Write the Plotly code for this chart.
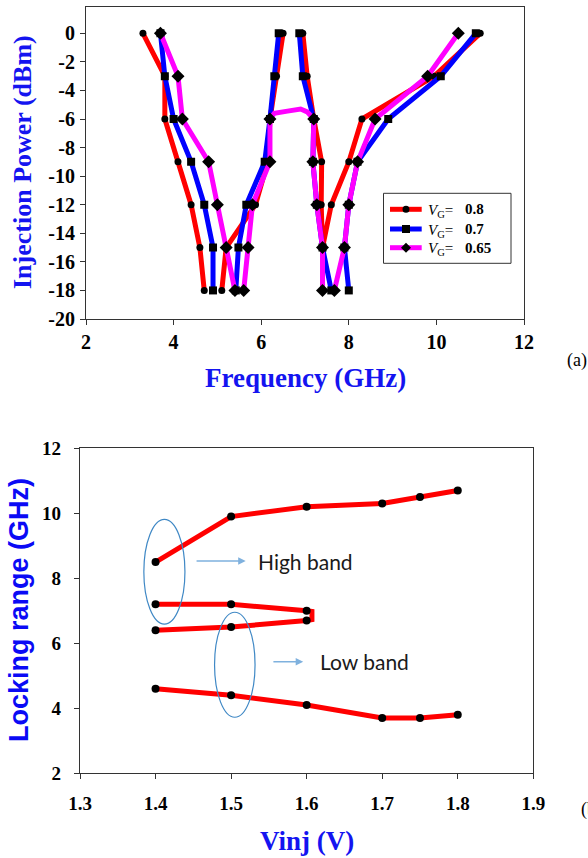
import plotly.graph_objects as go

# ---------------- (a) injection power vs frequency ----------------
power_levels = [0, -3, -6, -9, -12, -15, -18]

# frequency (GHz) at each power level, lower / upper edge of each locking band
vg08_b1_low = [3.3, 3.8, 3.8, 4.1, 4.4, 4.6, 4.7]
vg08_b1_high = [6.5, 6.35, 6.2, 6.15, 5.87, 5.2, 5.1]
vg08_b2_low = [6.95, 7.05, 7.2, 7.38, 7.37, 7.4, None]
vg08_b2_high = [11.0, 9.95, 8.3, 8.0, 7.6, 7.4, None]

vg07_b1_low = [3.7, 3.8, 4.0, 4.4, 4.7, 4.9, 4.9]
vg07_b1_high = [6.4, 6.3, 6.2, 6.08, 5.66, 5.48, 5.42]
vg07_b2_low = [6.87, 6.95, 7.2, 7.18, 7.27, 7.4, 7.6]
vg07_b2_high = [10.9, 10.1, 8.9, 8.2, 8.0, 7.9, 8.0]

vg065_b1_low = [3.7, 4.1, 4.2, 4.8, 5.0, 5.2, 5.4]
vg065_b1_high = [None, None, 6.2, 6.2, 5.8, 5.7, 5.6]
vg065_b2_low = [None, None, 7.2, 7.18, 7.27, 7.4, 7.4]
vg065_b2_high = [10.5, 9.8, 8.6, 8.2, 8.0, 7.9, 7.67]
vg065_merge_f = [6.2, 6.3, 6.6, 6.9, 7.05, 7.2]
vg065_merge_p = [-6, -5.6, -5.45, -5.3, -5.5, -6]

series_names = ["0.8", "0.7", "0.65"]
x_ticks_a = [2, 4, 6, 8, 10, 12]
y_ticks_a = [0, -2, -4, -6, -8, -10, -12, -14, -16, -18, -20]

# ---------------- (b) locking range vs Vinj ----------------
vinj = [1.4, 1.5, 1.6, 1.7, 1.75, 1.8]
high_band_upper = [8.5, 9.9, 10.2, 10.3, 10.5, 10.7]
high_band_lower = [7.2, 7.2, 7.0, None, None, None]
low_band_upper = [6.4, 6.5, 6.7, None, None, None]
low_band_lower = [4.6, 4.4, 4.1, 3.7, 3.7, 3.8]
merge_vinj = [1.607, 1.607]
merge_level = [6.98, 6.73]
x_ticks_b = [1.3, 1.4, 1.5, 1.6, 1.7, 1.8, 1.9]
y_ticks_b = [2, 4, 6, 8, 10, 12]


def edge(freqs, reverse=False):
    pts = [(f, p) for f, p in zip(freqs, power_levels) if f is not None]
    return pts[::-1] if reverse else pts


def build_path(segments):
    xs, ys = [], []
    last = None
    for seg in segments:
        if not seg:
            continue
        if last is not None:
            if seg[0] == last:
                seg = seg[1:]
            else:
                xs.append(None)
                ys.append(None)
        for f, p in seg:
            xs.append(f)
            ys.append(p)
        last = (xs[-1], ys[-1])
    return xs, ys


SERIF = "Liberation Serif"
SANS = "Liberation Sans"
W, H = 588, 858


def px_x(v):
    return v / W


def px_y(v):
    return 1 - v / H


fig = go.Figure()

styles = [
    ("#FF0000", "circle", 7),
    ("#0000FF", "square", 8),
    ("#FF00FF", "diamond", 10),
]
edges = [
    (vg08_b1_low, vg08_b1_high, vg08_b2_low, vg08_b2_high),
    (vg07_b1_low, vg07_b1_high, vg07_b2_low, vg07_b2_high),
    (vg065_b1_low, vg065_b1_high, vg065_b2_low, vg065_b2_high),
]

for name, (col, sym, msz), (b1l, b1h, b2l, b2h) in zip(series_names, styles, edges):
    if name == "0.65":
        fig.add_trace(go.Scatter(
            x=vg065_merge_f, y=vg065_merge_p, mode="lines",
            line=dict(color=col, width=5), showlegend=False,
            xaxis="x", yaxis="y", hoverinfo="skip"))
    xs, ys = build_path([edge(b1l), edge(b1h, True), edge(b2l), edge(b2h, True)])
    fig.add_trace(go.Scatter(
        x=xs, y=ys, mode="lines+markers", connectgaps=False, showlegend=False,
        name="VG = " + name,
        line=dict(color=col, width=5),
        marker=dict(symbol=sym, size=msz, color="black", line=dict(width=0)),
        xaxis="x", yaxis="y"))

# (b) traces
loop_x = [v for v, h in zip(vinj, high_band_lower) if h is not None] + merge_vinj + \
         [v for v, l in zip(vinj, low_band_upper) if l is not None][::-1]
loop_y = [h for h in high_band_lower if h is not None] + merge_level + \
         [l for l in low_band_upper if l is not None][::-1]

for xs, ys in [(vinj, high_band_upper), (loop_x, loop_y), (vinj, low_band_lower)]:
    fig.add_trace(go.Scatter(x=xs, y=ys, mode="lines", line=dict(color="#FF0000", width=5),
                             showlegend=False, xaxis="x2", yaxis="y2"))
for band in [high_band_upper, high_band_lower, low_band_upper, low_band_lower]:
    fig.add_trace(go.Scatter(
        x=[v for v, b in zip(vinj, band) if b is not None],
        y=[b for b in band if b is not None],
        mode="markers", marker=dict(color="black", size=8),
        showlegend=False, xaxis="x2", yaxis="y2"))


def axis_common(fs):
    return dict(showline=True, mirror=True, linecolor="#333333", linewidth=1.2,
                ticks="outside", ticklen=5, tickwidth=1.2, tickcolor="#333333",
                showgrid=False, zeroline=False, automargin=False,
                tickfont=dict(family=SERIF, size=fs, color="black", weight="bold"))


fig.update_layout(
    width=W, height=H,
    margin=dict(l=0, r=0, t=0, b=0, autoexpand=False),
    paper_bgcolor="white", plot_bgcolor="white",
    showlegend=False,
    xaxis=dict(domain=[86 / W, 524 / W], range=[2, 12], tickvals=x_ticks_a,
               ticktext=[str(v) for v in x_ticks_a], anchor="y", ticklabelstandoff=0,
               **axis_common(20)),
    yaxis=dict(domain=[1 - 319 / H, 1 - 7.3 / H], range=[-20, 1.82], tickvals=y_ticks_a,
               ticktext=[str(v) for v in y_ticks_a], anchor="x", ticklabelstandoff=1,
               **axis_common(20)),
    xaxis2=dict(domain=[80 / W, 533.3 / W], range=[1.3, 1.9], tickvals=x_ticks_b,
                ticktext=["%.1f" % v for v in x_ticks_b], anchor="y2", ticklabelstandoff=8,
                **axis_common(19)),
    yaxis2=dict(domain=[1 - 773.3 / H, 1 - 448.3 / H], range=[2, 12], tickvals=y_ticks_b,
                ticktext=[str(v) for v in y_ticks_b], anchor="x2", ticklabelstandoff=9,
                **axis_common(19)),
)

ann = [
    dict(text="<b>Injection Power (dBm)</b>", x=px_x(23), y=px_y(162), textangle=-90,
         font=dict(family=SERIF, size=26, color="#1414F0")),
    dict(text="<b>Frequency (GHz)</b>", x=px_x(305), y=px_y(378),
         font=dict(family=SERIF, size=27, color="#1414F0")),
    dict(text="(a)", x=px_x(577), y=px_y(360), font=dict(family=SERIF, size=18, color="black")),
    dict(text="<b>Locking range (GHz)</b>", x=px_x(19), y=px_y(610), textangle=-90,
         font=dict(family=SANS, size=27, color="#0A0AF5")),
    dict(text="<b>Vinj (V)</b>", x=px_x(306.7), y=px_y(841),
         font=dict(family=SERIF, size=27, color="#1414F0")),
    dict(text="(b)", x=px_x(579), y=px_y(809), xanchor="left",
         font=dict(family=SERIF, size=18, color="black")),
]
for a in ann:
    a.setdefault("xanchor", "center")
    fig.add_annotation(xref="paper", yref="paper", showarrow=False, yanchor="middle", **a)

# ---- legend of panel (a), drawn by hand ----
legend_rows = [209.3, 229.0, 247.7]
fig.add_shape(type="rect", xref="paper", yref="paper",
              x0=px_x(383.5), x1=px_x(511), y0=px_y(193.3), y1=px_y(263.3),
              line=dict(color="#333333", width=1), fillcolor="white", layer="above")
for name, (col, sym, msz), row in zip(series_names, styles, legend_rows):
    fig.add_shape(type="line", xref="paper", yref="paper",
                  x0=px_x(390), x1=px_x(421.7), y0=px_y(row), y1=px_y(row),
                  line=dict(color=col, width=5), layer="above")
    half = msz / 2
    if sym == "circle":
        shp = dict(type="circle", x0=-half, x1=half, y0=-half, y1=half)
    elif sym == "square":
        shp = dict(type="rect", x0=-half, x1=half, y0=-half, y1=half)
    else:
        shp = dict(type="path", path="M 0,%g L %g,0 L 0,%g L %g,0 Z" % (half, half, -half, -half))
    fig.add_shape(xref="paper", yref="paper", xsizemode="pixel", ysizemode="pixel",
                  xanchor=px_x(406), yanchor=px_y(row), fillcolor="black",
                  line=dict(width=0), layer="above", **shp)
    fig.add_annotation(xref="paper", yref="paper", x=px_x(426.5), y=px_y(row + 1.5),
                       xanchor="left", yanchor="middle", showarrow=False,
                       text="<i>V</i><sub>G</sub>=",
                       font=dict(family=SERIF, size=15, color="black"))
    fig.add_annotation(xref="paper", yref="paper", x=px_x(463), y=px_y(row),
                       xanchor="left", yanchor="middle", showarrow=False,
                       text="<b>" + name + "</b>",
                       font=dict(family=SERIF, size=15, color="black"))

# arrows and labels in panel (b)
fig.add_annotation(xref="x2", yref="y2", axref="x2", ayref="y2", x=1.5193, y=8.53,
                   ax=1.4523, ay=8.53, showarrow=True, arrowhead=2, arrowsize=1,
                   arrowwidth=1.5, arrowcolor="#7FB1DE", text="")
fig.add_annotation(xref="x2", yref="y2", axref="x2", ayref="y2", x=1.5954, y=5.43,
                   ax=1.554, ay=5.43, showarrow=True, arrowhead=2, arrowsize=1,
                   arrowwidth=1.5, arrowcolor="#7FB1DE", text="")
fig.add_annotation(xref="x2", yref="y2", x=1.5327, y=8.53, text="High band", showarrow=False,
                   xanchor="left", yanchor="middle", font=dict(family="Lato", size=21, color="#1a1a1a"))
fig.add_annotation(xref="x2", yref="y2", x=1.6152, y=5.43, text="Low band", showarrow=False,
                   xanchor="left", yanchor="middle", font=dict(family="Lato", size=21, color="#1a1a1a"))

# ellipses
fig.add_shape(type="circle", xref="x2", yref="y2", x0=1.3845, x1=1.4389, y0=6.59, y1=9.81,
              line=dict(color="#3F88C5", width=1.2))
fig.add_shape(type="circle", xref="x2", yref="y2", x0=1.4781, x1=1.5317, y0=3.725, y1=6.955,
              line=dict(color="#3F88C5", width=1.2))

fig.write_html("out.html", config={"displayModeBar": False},
               post_script="document.body.style.margin='0px';")
